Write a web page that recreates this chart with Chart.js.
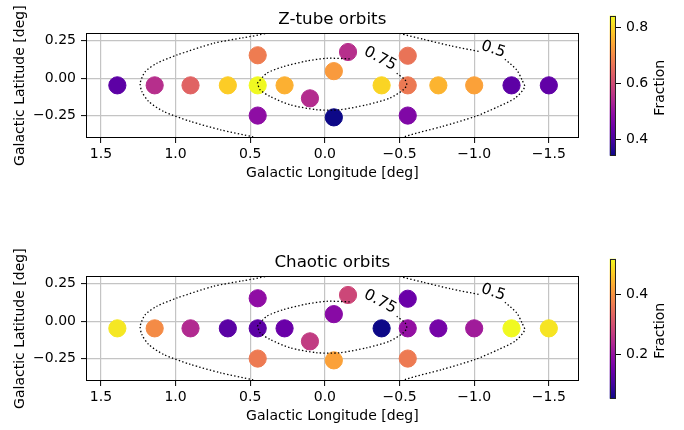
<!DOCTYPE html>
<html>
<head>
<meta charset="utf-8">
<script src="https://cdn.jsdelivr.net/npm/chart.js@4.4.0/dist/chart.umd.min.js"></script>
<style>
  body { margin: 0; background: #fff; width: 684px; height: 430px; position: relative; overflow: hidden; }
  canvas { position: absolute; }
</style>
</head>
<body>
<canvas id="ztube" width="590" height="190" style="left:0;top:0"></canvas>
<canvas id="cbZtube" width="94" height="190" style="left:590px;top:0"></canvas>
<canvas id="chaos" width="590" height="190" style="left:0;top:243px"></canvas>
<canvas id="cbChaos" width="94" height="190" style="left:590px;top:243px"></canvas>
<script>
// positions des champs (deg)
var longitudes = [1.39, 1.14, 0.90, 0.65, 0.45, 0.45, 0.45, 0.27, 0.10, -0.06, -0.06, -0.155, -0.38, -0.555, -0.555, -0.555, -0.76, -1.00, -1.25, -1.50];
var latitudes  = [-0.048, -0.048, -0.048, -0.048, 0.153, -0.048, -0.25, -0.048, -0.135, 0.047, -0.262, 0.175, -0.048, 0.15, -0.048, -0.25, -0.048, -0.048, -0.048, -0.048];

// fraction d'orbites par champ
var fractionZtube = [0.425, 0.55, 0.64, 0.79, 0.68, 0.843, 0.49, 0.755, 0.545, 0.725, 0.34, 0.55, 0.80, 0.665, 0.675, 0.47, 0.76, 0.735, 0.425, 0.43];
var fractionChaos = [0.50, 0.39, 0.24, 0.128, 0.193, 0.13, 0.366, 0.146, 0.268, 0.184, 0.42, 0.286, 0.053, 0.146, 0.198, 0.366, 0.16, 0.216, 0.52, 0.497];

// contours (null = coupure pour l'étiquette)
var contour05GaucheL = [0.36, 0.39, 0.55, 0.746, 0.99, 1.125, 1.203, 1.237, 1.226, 1.18, 1.08, 0.90, 0.70, 0.48, 0.45];
var contour05GaucheB = [0.32, 0.30, 0.27, 0.233, 0.155, 0.10, 0.044, -0.033, -0.089, -0.156, -0.223, -0.289, -0.345, -0.393, -0.41];
var contour05DroiteL = [-0.48, -0.50, -0.66, -0.84, -1.04, null, -1.206, -1.285, -1.32, -1.338, -1.275, -1.164, -1.007, -0.785, -0.54, -0.52];
var contour05DroiteB = [0.31, 0.30, 0.26, 0.217, 0.177, null, 0.127, 0.055, -0.011, -0.06, -0.133, -0.189, -0.256, -0.323, -0.389, -0.41];
var contour075L = [0.452, 0.389, 0.278, 0.121, -0.013, -0.169, null, -0.481, -0.537, -0.548, -0.525, -0.436, -0.28, -0.10, 0.054, 0.233, 0.367, 0.434, 0.452];
var contour075B = [-0.033, 0.033, 0.077, 0.115, 0.133, 0.129, null, 0.033, -0.011, -0.045, -0.078, -0.133, -0.178, -0.211, -0.211, -0.178, -0.122, -0.078, -0.033];

var etiquettes = ['0.75', '0.5'];
var etiquettesL = [-0.37, -1.128];
var etiquettesB = [0.13, 0.192];
var etiquettesAngle = [28, 19];

var ticksX = [1.5, 1.0, 0.5, 0.0, -0.5, -1.0, -1.5];
var ticksY = [0.25, 0.0, -0.25];
var ticksCbZtube = [0.4, 0.6, 0.8];
var ticksCbChaos = [0.2, 0.4];

var plasma = ['#0d0887', '#41049d', '#6a00a8', '#8f0da4', '#b12a90', '#cc4778', '#e16462', '#f2844b', '#fca636', '#fcce25', '#f0f921'];

function hexRgb(h) {
  return [parseInt(h.substr(1, 2), 16), parseInt(h.substr(3, 2), 16), parseInt(h.substr(5, 2), 16)];
}

function couleur(t) {
  t = Math.max(0, Math.min(1, t));
  var k = t * (plasma.length - 1);
  var i = Math.min(Math.floor(k), plasma.length - 2);
  var f = k - i;
  var a = hexRgb(plasma[i]), b = hexRgb(plasma[i + 1]);
  var c = a.map(function(v, j) { return Math.round(v + (b[j] - v) * f); });
  return 'rgb(' + c[0] + ',' + c[1] + ',' + c[2] + ')';
}

function moins(s) { return s.replace('-', '\u2212'); }

var police = 'DejaVu Sans';
Chart.defaults.font.family = police;
Chart.defaults.color = '#000';

function courbe(ls, bs) {
  return {
    type: 'scatter',
    data: ls.map(function(l, i) { return { x: l, y: bs[i] }; }),
    showLine: true,
    spanGaps: false,
    borderColor: '#000',
    borderWidth: 1.3,
    borderDash: [1.4, 2.2],
    pointRadius: 0,
    tension: 0.25,
    clip: 0,
    order: 0
  };
}

var cadre = {
  id: 'cadre',
  afterDraw: function(chart) {
    var a = chart.chartArea, ctx = chart.ctx;
    ctx.save();
    ctx.strokeStyle = '#000';
    ctx.lineWidth = 1;
    ctx.strokeRect(Math.round(a.left) + 0.5, Math.round(a.top) + 0.5, Math.round(a.right - a.left) - 1, Math.round(a.bottom - a.top) - 1);
    // titre centré sur la zone du graphique
    ctx.font = '16.7px "' + police + '"';
    ctx.fillStyle = '#000';
    ctx.textAlign = 'center';
    ctx.textBaseline = 'middle';
    ctx.fillText(chart.options.titre, (a.left + a.right) / 2, 20);
    ctx.restore();
  }
};

var etiquettesContour = {
  id: 'etiquettesContour',
  afterDatasetsDraw: function(chart) {
    var ctx = chart.ctx, sx = chart.scales.x, sy = chart.scales.y;
    ctx.save();
    ctx.font = '15.5px "' + police + '"';
    ctx.fillStyle = '#000';
    ctx.textAlign = 'center';
    ctx.textBaseline = 'middle';
    etiquettes.forEach(function(txt, i) {
      ctx.save();
      ctx.translate(sx.getPixelForValue(etiquettesL[i]), sy.getPixelForValue(etiquettesB[i]));
      ctx.rotate(etiquettesAngle[i] * Math.PI / 180);
      ctx.fillText(txt, 0, 0);
      ctx.restore();
    });
    ctx.restore();
  }
};

function graphique(id, titre, fractions) {
  var vmin = Math.min.apply(null, fractions), vmax = Math.max.apply(null, fractions);
  var couleurs = fractions.map(function(f) { return couleur((f - vmin) / (vmax - vmin)); });
  var points = longitudes.map(function(l, i) { return { x: l, y: latitudes[i] }; });

  new Chart(document.getElementById(id), {
    type: 'scatter',
    data: {
      datasets: [
        courbe(contour05GaucheL, contour05GaucheB),
        courbe(contour05DroiteL, contour05DroiteB),
        courbe(contour075L, contour075B),
        {
          data: points,
          pointRadius: 8.6,
          pointBackgroundColor: couleurs,
          pointBorderColor: couleurs,
          pointBorderWidth: 1,
          order: 1
        }
      ]
    },
    options: {
      titre: titre,
      responsive: false,
      devicePixelRatio: 1,
      animation: false,
      layout: { padding: { left: 0, right: 11.3, top: 33.3, bottom: 0 } },
      plugins: {
        legend: { display: false },
        tooltip: { enabled: false },
        title: { display: false }
      },
      scales: {
        x: {
          type: 'linear',
          reverse: true,
          min: -1.7,
          max: 1.6,
          afterBuildTicks: function(axe) { axe.ticks = ticksX.map(function(v) { return { value: v }; }); },
          afterFit: function(axe) { axe.height = 52; },
          ticks: {
            font: { size: 14 },
            color: '#000',
            padding: 3,
            maxRotation: 0,
            callback: function(v) { return moins(v.toFixed(1)); }
          },
          grid: { color: '#c4c4c4', lineWidth: 1.2, tickColor: '#000', tickLength: 5, tickWidth: 1 },
          border: { display: false },
          title: {
            display: true,
            text: 'Galactic Longitude [deg]',
            font: { size: 14 },
            color: '#000',
            padding: { top: 0, bottom: 8 }
          }
        },
        y: {
          type: 'linear',
          min: -0.4,
          max: 0.3,
          afterBuildTicks: function(axe) { axe.ticks = ticksY.map(function(v) { return { value: v }; }); },
          afterFit: function(axe) { axe.width = 86; },
          ticks: {
            font: { size: 14 },
            color: '#000',
            padding: 5,
            callback: function(v) { return moins(v.toFixed(2)); }
          },
          grid: { color: '#c4c4c4', lineWidth: 1.2, tickColor: '#000', tickLength: 5, tickWidth: 1 },
          border: { display: false },
          title: {
            display: true,
            text: 'Galactic Latitude [deg]',
            font: { size: 14 },
            color: '#000',
            padding: { top: 12, bottom: 0 }
          }
        }
      }
    },
    plugins: [etiquettesContour, cadre]
  });
  return [vmin, vmax];
}

function barreCouleur(id, bornes, ticks) {
  var degrade = {
    id: 'degrade',
    beforeDatasetsDraw: function(chart) {
      var a = chart.chartArea, ctx = chart.ctx;
      var g = ctx.createLinearGradient(0, a.bottom, 0, a.top);
      plasma.forEach(function(c, i) { g.addColorStop(i / (plasma.length - 1), c); });
      ctx.save();
      ctx.fillStyle = g;
      ctx.fillRect(a.left, a.top, a.right - a.left, a.bottom - a.top);
      ctx.restore();
    },
    afterDraw: function(chart) {
      var a = chart.chartArea, ctx = chart.ctx;
      ctx.save();
      ctx.strokeStyle = '#222';
      ctx.lineWidth = 1;
      ctx.strokeRect(Math.round(a.left) + 0.5, Math.round(a.top) + 0.5, Math.round(a.right - a.left) - 1, Math.round(a.bottom - a.top) - 1);
      ctx.font = '14px "' + police + '"';
      ctx.fillStyle = '#000';
      ctx.textAlign = 'center';
      ctx.textBaseline = 'middle';
      ctx.translate(70, (a.top + a.bottom) / 2 + 2);
      ctx.rotate(-Math.PI / 2);
      ctx.fillText('Fraction', 0, 0);
      ctx.restore();
    }
  };

  new Chart(document.getElementById(id), {
    type: 'scatter',
    data: { datasets: [{ data: [] }] },
    options: {
      responsive: false,
      devicePixelRatio: 1,
      animation: false,
      layout: { padding: { left: 19.7, right: 0, top: 15.7, bottom: 34.3 } },
      plugins: { legend: { display: false }, tooltip: { enabled: false } },
      scales: {
        x: { display: false },
        y: {
          position: 'right',
          min: bornes[0],
          max: bornes[1],
          afterBuildTicks: function(axe) { axe.ticks = ticks.map(function(v) { return { value: v }; }); },
          afterFit: function(axe) { axe.width = 68; },
          ticks: {
            font: { size: 14 },
            color: '#000',
            padding: 5,
            callback: function(v) { return v.toFixed(1); }
          },
          grid: { drawOnChartArea: false, tickColor: '#000', tickLength: 5, tickWidth: 1 },
          border: { display: false }
        }
      }
    },
    plugins: [degrade]
  });
}

var bornesZtube = graphique('ztube', 'Z-tube orbits', fractionZtube);
barreCouleur('cbZtube', bornesZtube, ticksCbZtube);
var bornesChaos = graphique('chaos', 'Chaotic orbits', fractionChaos);
barreCouleur('cbChaos', bornesChaos, ticksCbChaos);
</script>
</body>
</html>
